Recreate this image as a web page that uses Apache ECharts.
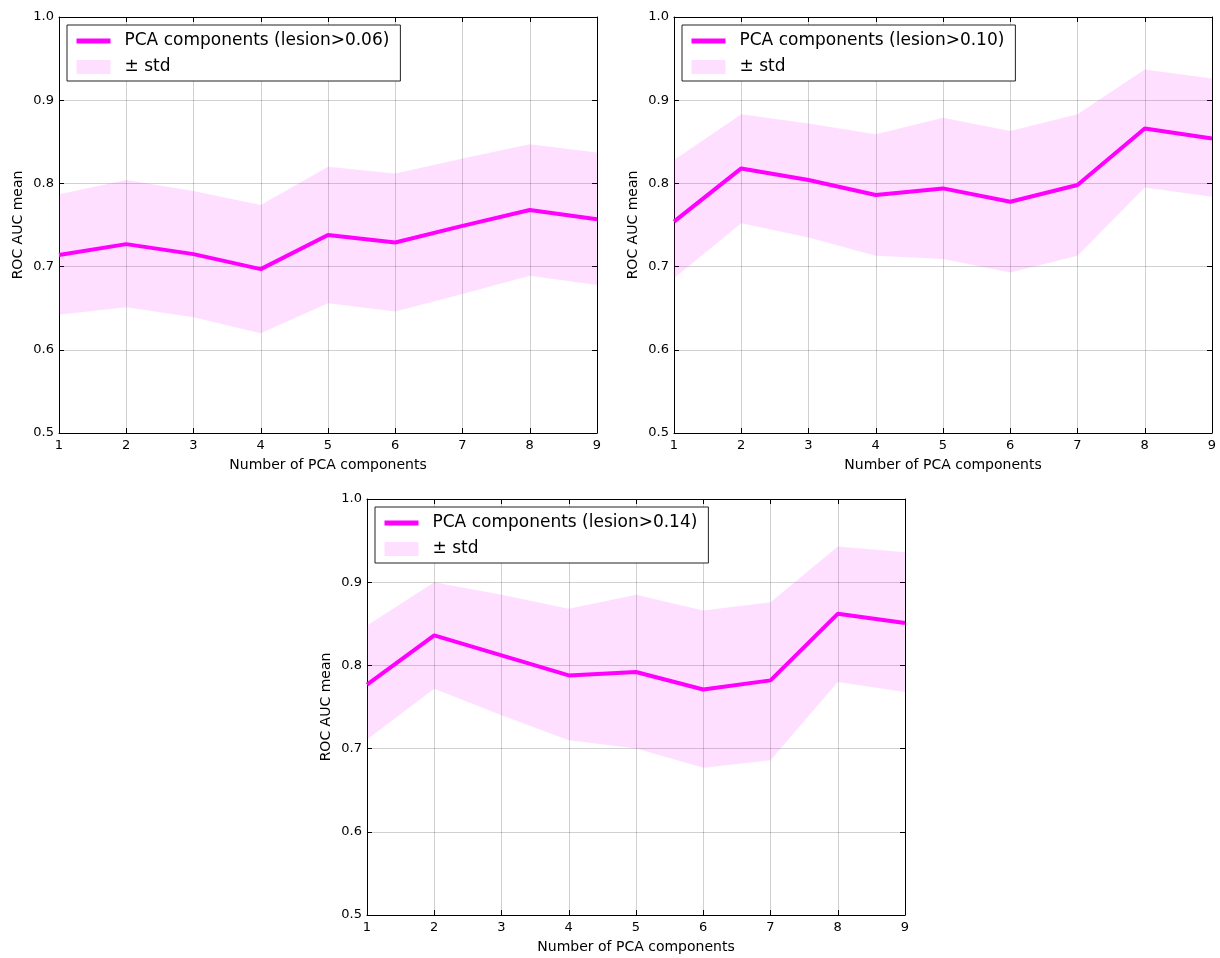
<!DOCTYPE html>
<html><head><meta charset="utf-8">
<script src="https://cdn.jsdelivr.net/npm/echarts@6/dist/echarts.min.js"></script>
<style>html,body{margin:0;padding:0;background:#fff}#c{width:1220px;height:958px}</style>
</head><body><div id="c"></div>
<script>
const components = [1, 2, 3, 4, 5, 6, 7, 8, 9];

const mean006  = [0.714, 0.727, 0.715, 0.697, 0.738, 0.729, 0.749, 0.768, 0.757];
const upper006 = [0.787, 0.804, 0.791, 0.774, 0.820, 0.812, 0.830, 0.847, 0.837];
const lower006 = [0.642, 0.651, 0.639, 0.620, 0.656, 0.646, 0.667, 0.689, 0.678];

const mean010  = [0.754, 0.818, 0.804, 0.786, 0.794, 0.778, 0.798, 0.866, 0.854];
const upper010 = [0.828, 0.883, 0.872, 0.859, 0.879, 0.863, 0.883, 0.937, 0.926];
const lower010 = [0.686, 0.752, 0.735, 0.713, 0.709, 0.693, 0.713, 0.795, 0.784];

const mean014  = [0.777, 0.836, 0.812, 0.788, 0.792, 0.771, 0.782, 0.862, 0.851];
const upper014 = [0.848, 0.900, 0.885, 0.868, 0.885, 0.866, 0.876, 0.943, 0.936];
const lower014 = [0.711, 0.772, 0.740, 0.710, 0.700, 0.677, 0.686, 0.780, 0.768];

const lineLabels = ['PCA components (lesion>0.06)', 'PCA components (lesion>0.10)', 'PCA components (lesion>0.14)'];
const stdLabel = '\u00b1 std';
const xAxisTitle = 'Number of PCA components';
const yAxisTitle = 'ROC AUC mean';

const panels = [
  { mean: mean006, upper: upper006, lower: lower006, label: lineLabels[0], left: 59,  top: 17 },
  { mean: mean010, upper: upper010, lower: lower010, label: lineLabels[1], left: 674, top: 17 },
  { mean: mean014, upper: upper014, lower: lower014, label: lineLabels[2], left: 367, top: 499 }
];
const W = 538, H = 416;
const FONT = 'DejaVu Sans';
const MAGENTA = '#ff00ff';
const BAND = 'rgba(255,0,255,0.125)';

const grid = [], xAxis = [], yAxis = [], series = [], legend = [];
panels.forEach((p, i) => {
  grid.push({ left: p.left, top: p.top, width: W, height: H, containLabel: false });
  const common = {
    gridIndex: i, type: 'value', min: 1, max: 9, interval: 1
  };
  xAxis.push(Object.assign({}, common, {
    position: 'bottom',
    axisLine: { show: true, onZero: false, lineStyle: { color: '#000', width: 1 } },
    axisTick: { show: true, inside: true, length: 5, lineStyle: { color: '#000' } },
    axisLabel: { fontSize: 13, fontFamily: FONT, color: '#000', margin: 6 },
    splitLine: { show: true, lineStyle: { color: 'rgba(0,0,0,0.18)', width: 1 } },
    name: xAxisTitle, nameLocation: 'middle', nameGap: 25,
    nameTextStyle: { fontSize: 14, fontFamily: FONT, color: '#000' }
  }));
  xAxis.push(Object.assign({}, common, {
    position: 'top',
    axisLine: { show: true, onZero: false, lineStyle: { color: '#000', width: 1 } },
    axisTick: { show: true, inside: true, length: 5, lineStyle: { color: '#000' } },
    axisLabel: { show: false },
    splitLine: { show: false }
  }));
  const ycommon = { gridIndex: i, type: 'value', min: 0.5, max: 1.0, interval: 0.1 };
  yAxis.push(Object.assign({}, ycommon, {
    position: 'left',
    axisLine: { show: true, onZero: false, lineStyle: { color: '#000', width: 1 } },
    axisTick: { show: true, inside: true, length: 5, lineStyle: { color: '#000' } },
    axisLabel: { fontSize: 13, fontFamily: FONT, color: '#000', margin: 5,
      formatter: v => v.toFixed(1) },
    splitLine: { show: true, lineStyle: { color: 'rgba(0,0,0,0.18)', width: 1 } },
    name: yAxisTitle, nameLocation: 'middle', nameGap: 34, nameRotate: 90,
    nameTextStyle: { fontSize: 14, fontFamily: FONT, color: '#000' }
  }));
  yAxis.push(Object.assign({}, ycommon, {
    position: 'right',
    axisLine: { show: true, onZero: false, lineStyle: { color: '#000', width: 1 } },
    axisTick: { show: true, inside: true, length: 5, lineStyle: { color: '#000' } },
    axisLabel: { show: false },
    splitLine: { show: false }
  }));

  const up = p.upper, lo = p.lower;
  series.push({
    type: 'custom', name: stdLabel,
    xAxisIndex: 2 * i, yAxisIndex: 2 * i,
    itemStyle: { color: BAND },
    data: components.map((x, k) => [x, lo[k], up[k]]),
    encode: { x: 0, y: [1, 2] },
    z: 1,
    renderItem: (params, api) => {
      if (params.dataIndex !== 0) return null;
      const pts = [];
      for (let k = 0; k < components.length; k++) pts.push(api.coord([components[k], up[k]]));
      for (let k = components.length - 1; k >= 0; k--) pts.push(api.coord([components[k], lo[k]]));
      return { type: 'polygon', shape: { points: pts }, style: { fill: BAND } };
    }
  });
  series.push({
    type: 'line', name: p.label,
    xAxisIndex: 2 * i, yAxisIndex: 2 * i,
    data: components.map((x, k) => [x, p.mean[k]]),
    symbol: 'none', showSymbol: false,
    lineStyle: { color: MAGENTA, width: 4 },
    itemStyle: { color: MAGENTA },
    z: 3
  });
  legend.push({
    left: p.left + 8, top: p.top + 8,
    orient: 'vertical',
    backgroundColor: '#fff',
    borderColor: '#222', borderWidth: 1,
    padding: [7, 11, 5, 7],
    itemWidth: 34, itemHeight: 14, itemGap: 8,
    selectedMode: false,
    textStyle: { fontSize: 17, fontFamily: FONT, color: '#000', padding: [0, 0, 0, 9], lineHeight: 18 },
    data: [
      { name: p.label, itemStyle: { opacity: 0 }, lineStyle: { width: 5, color: MAGENTA } },
      { name: stdLabel, icon: 'rect', itemStyle: { color: BAND } }
    ]
  });
});

const chart = echarts.init(document.getElementById('c'), null, { renderer: 'canvas' });
chart.setOption({
  animation: false,
  backgroundColor: '#fff',
  grid, xAxis, yAxis, series, legend
});
</script>
</body></html>
